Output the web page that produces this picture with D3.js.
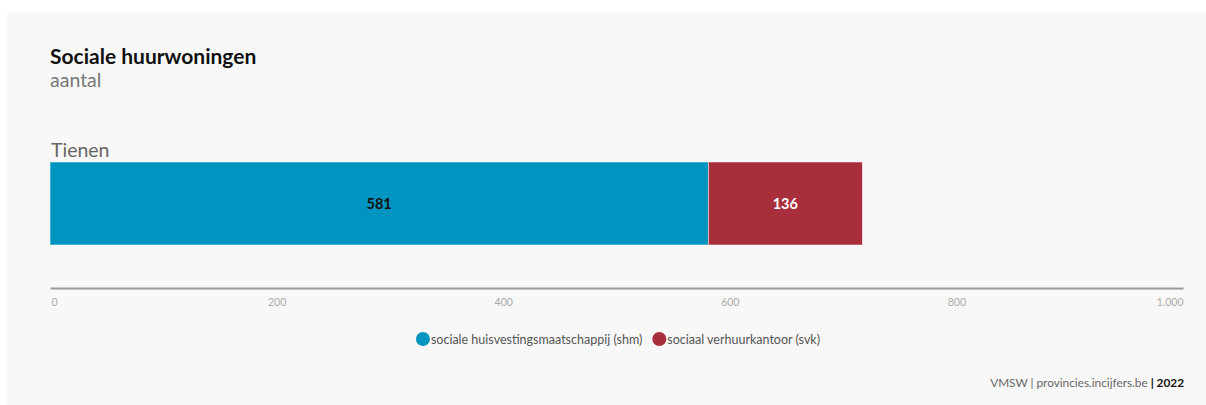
<!DOCTYPE html>
<html><head><meta charset="utf-8">
<script src="https://cdn.jsdelivr.net/npm/d3@7"></script>
<style>
body{margin:0;background:#fff;}
svg{display:block;font-family:Lato,"Noto Sans",sans-serif;}
</style></head><body>
<svg id="c" width="1206" height="405"></svg>
<script>
const categories = ["Tienen"];
const seriesNames = ["sociale huisvestingsmaatschappij (shm)", "sociaal verhuurkantoor (svk)"];
const seriesColors = ["#0095c0", "#a82e3c"];
const shmValues = [581];
const svkValues = [136];
const tickValues = [0, 200, 400, 600, 800, 1000];
const tickLabels = ["0", "200", "400", "600", "800", "1.000"];

const svg = d3.select("#c");
svg.append("rect").attr("x", 7).attr("y", 12).attr("width", 1199).attr("height", 393).attr("fill", "#f8f8f8");

svg.append("text").attr("x", 50).attr("y", 64).attr("font-size", 21).attr("font-weight", 700).attr("fill", "#111").text("Sociale huurwoningen");
svg.append("text").attr("x", 50).attr("y", 87).attr("font-size", 19.5).attr("fill", "#777").text("aantal");

const x = d3.scaleLinear().domain([0, 1000]).range([50, 1183]);
const y = d3.scaleBand().domain(categories).range([162, 245]).padding(0);

categories.forEach((cat, i) => {
  svg.append("text").attr("x", 51).attr("y", y(cat) - 5).attr("font-size", 19.5).attr("fill", "#666").text(cat);
  const vals = [shmValues[i], svkValues[i]];
  let acc = 0;
  vals.forEach((v, j) => {
    svg.append("rect").attr("x", x(acc)).attr("y", y(cat)).attr("width", x(acc + v) - x(acc)).attr("height", y.bandwidth())
      .attr("fill", seriesColors[j]).attr("stroke", "#fff").attr("stroke-width", 0.5);
    svg.append("text").attr("x", (x(acc) + x(acc + v)) / 2).attr("y", y(cat) + y.bandwidth() / 2 + 5)
      .attr("text-anchor", "middle").attr("font-size", 14.5).attr("font-weight", 700)
      .attr("fill", j === 0 ? "#111" : "#fff").text(v);
    acc += v;
  });
});

const axis = d3.axisBottom(x).tickValues(tickValues).tickFormat((d, i) => tickLabels[i]).tickSize(0).tickPadding(11);
const ag = svg.append("g").attr("transform", "translate(0,288)").call(axis);
ag.select(".domain").attr("stroke", "#999").attr("stroke-width", 2);
ag.selectAll("text").attr("font-size", 10.5).attr("fill", "#aaa").attr("font-family", "Lato,sans-serif");
ag.selectAll(".tick text").filter((d) => d === 0).attr("text-anchor", "start").attr("dx", 1);
ag.selectAll(".tick text").filter((d) => d === 1000).attr("text-anchor", "end");

// legend
const lg = svg.append("g");
let cx = 0;
seriesNames.forEach((n, i) => {
  const g = lg.append("g").attr("transform", `translate(${cx},0)`);
  g.append("circle").attr("cx", 7).attr("cy", 0).attr("r", 7).attr("fill", seriesColors[i]);
  const t = g.append("text").attr("x", 15).attr("y", 4.5).attr("font-size", 12.5).attr("fill", "#555").text(n);
  cx += 15 + t.node().getComputedTextLength() + 10;
});
const lw = cx - 10;
lg.attr("transform", `translate(${618 - lw / 2},339)`);

const src = svg.append("text").attr("x", 1184).attr("y", 387).attr("text-anchor", "end").attr("font-size", 11.8).attr("fill", "#666");
src.append("tspan").text("VMSW | provincies.incijfers.be ");
src.append("tspan").attr("font-weight", 700).attr("fill", "#111").text("| 2022");
</script>
</body></html>
